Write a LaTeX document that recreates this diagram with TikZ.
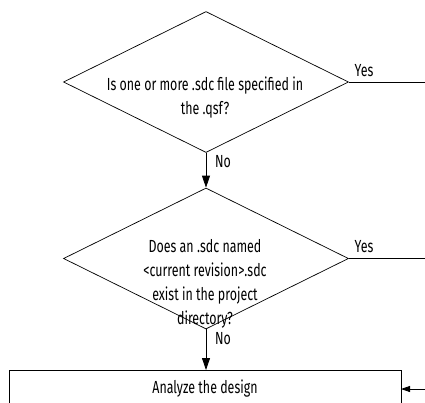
\documentclass[tikz,border=0pt]{standalone}
\usepackage{fontspec}
\setmainfont[FakeStretch=0.71]{Fira Sans}
\usetikzlibrary{shapes.geometric,arrows.meta}
\begin{document}
\begin{tikzpicture}[x=1pt,y=-1pt,
  every node/.style={font=\fontsize{17.5}{24}\selectfont},
  dia/.style={draw,diamond,inner sep=0pt,minimum width=285pt,minimum height=141pt,line width=0.7pt},
  txt/.style={align=center,inner sep=0pt},
  lbl/.style={inner sep=0pt},
  conn/.style={line width=0.8pt},
  arr/.style={conn,-{Triangle[length=12pt,width=8pt]}},
  box/.style={draw,line width=0.8pt}]
\useasboundingbox (0,0) rectangle (425,402);
\clip (0,0) rectangle (425,402);
\node[dia] (d1) at (206,82) {};
\node[txt] (t1) at (205,98) {Is one or more .sdc file specified in\\the .qsf?};
\node[dia] (d2) at (206,258.5) {};
\node[txt] (t2) at (205,284) {Does an .sdc named\\{<}current revision{>}.sdc\\exist in the project\\directory?};
\draw[box] (9,370) rectangle (401,420);
\coordinate (bx) at (401,389);
\node[txt] (t3) at (205,389) {Analyze the design};
\coordinate (y1) at (425,82);
\coordinate (y2) at (425,258.5);
\coordinate (r3) at (425,389);
\draw[conn] (d1.east) -- (y1);
\draw[conn] (d2.east) -- (y2);
\node[lbl] (yes1) at (364,71) {Yes};
\node[lbl] (yes2) at (364,247) {Yes};
\draw[arr] (d1.south) -- (d2.north);
\node[lbl] (no1) at (223,162) {No};
\draw[arr] (d2.south) -- (206,370) coordinate (btop);
\node[lbl] (no2) at (223,339) {No};
\draw[conn,-{Triangle[length=9pt,width=6pt]}] (r3) -- (bx);
\end{tikzpicture}
\end{document}
